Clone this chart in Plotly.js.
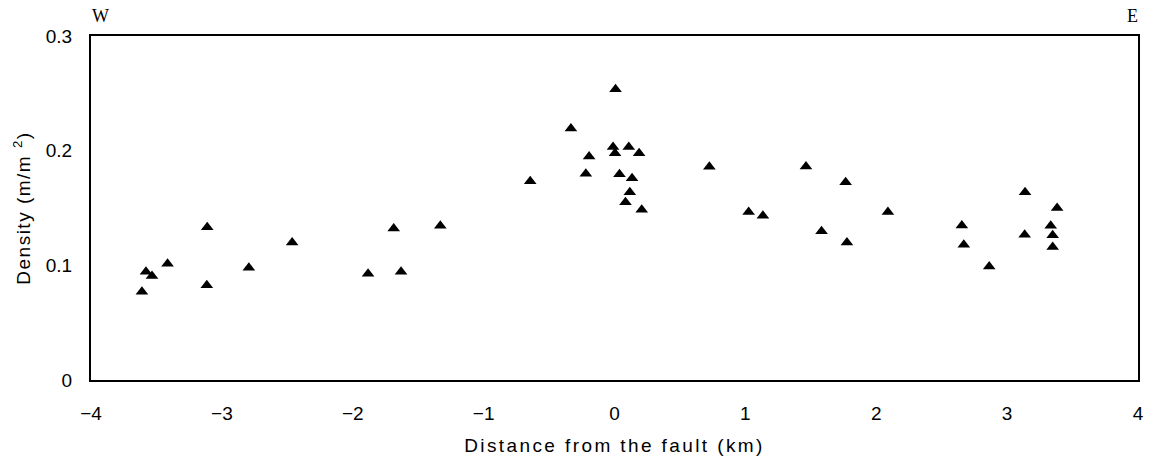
<!DOCTYPE html>
<html>
<head>
<meta charset="utf-8">
<script src="https://cdn.plot.ly/plotly-3.0.1.min.js"></script>
<style>
  html, body { margin: 0; padding: 0; background: #fff; }
  #chart { width: 1155px; height: 461px; }
  .xtitle { letter-spacing: 2.4px; }
  .ytitle { letter-spacing: 1.5px; }
</style>
</head>
<body>
<div id="chart"></div>
<script>
// Distance from the fault (km)
const distanceKm = [
  -3.611, -3.580, -3.534, -3.415, -3.112, -3.115, -2.794, -2.463,
  -1.883, -1.687, -1.631, -1.331,
  -0.644, -0.333, 0.008, -0.194, -0.219, -0.011, 0.004, 0.109, 0.188,
  0.038, 0.134, 0.117, 0.084, 0.208,
  0.725, 1.025, 1.134, 1.463, 1.766, 1.582, 1.776, 2.089,
  2.654, 2.669, 2.863, 3.137, 3.134, 3.382, 3.333, 3.348, 3.348
];
// Density (m/m^2)
const densityVals = [
  0.0770, 0.0943, 0.0908, 0.1013, 0.1333, 0.0827, 0.0978, 0.1200,
  0.0926, 0.1321, 0.0943, 0.1345,
  0.1734, 0.2194, 0.2536, 0.1949, 0.1798, 0.2031, 0.1978, 0.2031, 0.1978,
  0.1795, 0.1760, 0.1638, 0.1551, 0.1484,
  0.1859, 0.1466, 0.1432, 0.1862, 0.1725, 0.1298, 0.1200, 0.1466,
  0.1348, 0.1179, 0.0990, 0.1638, 0.1266, 0.1501, 0.1345, 0.1263, 0.1159
];
const xTickVals = [-4, -3, -2, -1, 0, 1, 2, 3, 4];
const yTickVals = [0, 0.1, 0.2, 0.3];
const yTickText = ['0', '0.1', '0.2', '0.3'];

const font = 'Liberation Sans, Arial, Helvetica, sans-serif';

const trace = {
  type: 'scatter',
  mode: 'markers',
  x: distanceKm,
  y: densityVals,
  marker: { symbol: 'triangle-up', size: 11, color: '#000' },
  hoverinfo: 'x+y'
};

const layout = {
  width: 1155,
  height: 461,
  margin: { l: 91, r: 17, t: 36, b: 81 },
  paper_bgcolor: '#fff',
  plot_bgcolor: '#fff',
  showlegend: false,
  font: { family: font, color: '#000', size: 19 },
  xaxis: {
    range: [-4, 4],
    tickvals: xTickVals,
    showgrid: false,
    zeroline: false,
    showline: true,
    mirror: true,
    linecolor: '#000',
    linewidth: 2,
    ticks: '',
    ticklabelstandoff: 15,
    tickfont: { family: font, size: 19, color: '#000' },
    title: { text: 'Distance from the fault (km)', font: { family: font, size: 19, color: '#000' }, standoff: 16 }
  },
  yaxis: {
    range: [0, 0.3],
    tickvals: yTickVals,
    ticktext: yTickText,
    showgrid: false,
    zeroline: false,
    showline: true,
    mirror: true,
    linecolor: '#000',
    linewidth: 2,
    ticks: '',
    ticklabelstandoff: 13,
    tickfont: { family: font, size: 19, color: '#000' },
    title: { text: 'Density (m/m <sup>2</sup>)', font: { family: font, size: 19, color: '#000' }, standoff: 10 }
  },
  annotations: [
    { text: 'W', xref: 'paper', yref: 'paper', x: 0.009, y: 1.058, xanchor: 'center', yanchor: 'middle',
      showarrow: false, font: { family: 'Liberation Serif, Times New Roman, serif', size: 18, color: '#000' } },
    { text: 'E', xref: 'paper', yref: 'paper', x: 0.995, y: 1.058, xanchor: 'center', yanchor: 'middle',
      showarrow: false, font: { family: 'Liberation Serif, Times New Roman, serif', size: 18, color: '#000' } }
  ]
};

Plotly.newPlot('chart', [trace], layout, { displayModeBar: false, staticPlot: true });
</script>
</body>
</html>
